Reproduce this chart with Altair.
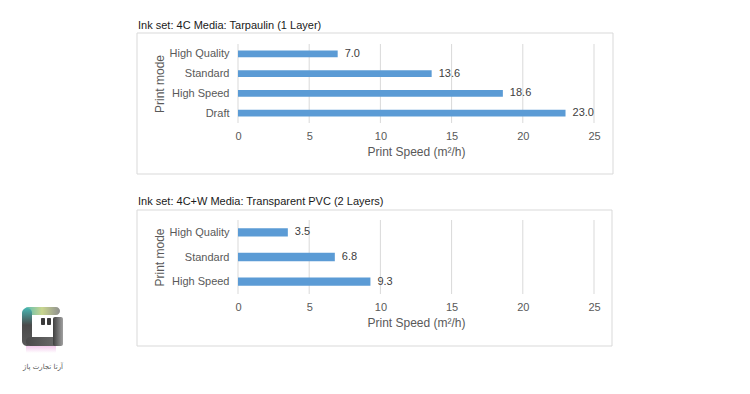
import altair as alt
import pandas as pd

# ---------------- data ----------------
panel_titles = ["Ink set: 4C Media: Tarpaulin (1 Layer)",
                "Ink set: 4C+W Media: Transparent PVC (2 Layers)"]
top_modes = ["High Quality", "Standard", "High Speed", "Draft"]
top_speeds = [7.0, 13.6, 18.6, 23.0]
bottom_modes = ["High Quality", "Standard", "High Speed"]
bottom_speeds = [3.5, 6.8, 9.3]
x_ticks = [0, 5, 10, 15, 20, 25]
x_title = "Print Speed (m²/h)"
y_title = "Print mode"
logo_text = ["آرتا تجارت پاژ"]

# ---------------- style ----------------
W, H = 734, 378
FONT = "Liberation Sans"
BLUE = "#5b9bd5"
GRID = "#d9d9d9"
TXT = "#595959"
X_RANGE = [230, 586]


def panel(modes, speeds, y_range, x_offset):
    df = pd.DataFrame({"mode": modes, "speed": speeds})
    ticks = pd.DataFrame({"speed": x_ticks})
    xs = alt.Scale(domain=[0, 25], range=X_RANGE, nice=False, zero=True)
    ys = alt.Scale(domain=modes, range=y_range, paddingInner=0.66, paddingOuter=0.33)
    grid = alt.Chart(ticks).mark_rule(color=GRID, strokeWidth=1).encode(
        x=alt.X("speed:Q", scale=xs, axis=None),
        y=alt.value(y_range[0]), y2=alt.value(y_range[1]))
    bars = alt.Chart(df).mark_bar(color=BLUE).encode(
        x=alt.X("speed:Q", scale=xs, axis=None),
        y=alt.Y("mode:N", scale=ys, axis=None))
    xaxis = alt.Chart(ticks).mark_point(opacity=0).encode(
        x=alt.X("speed:Q", scale=xs,
                axis=alt.Axis(title=x_title, orient="bottom", offset=x_offset,
                              values=x_ticks, grid=False, domain=False, ticks=False,
                              tickSize=0, labelFlush=False, labelPadding=7, titlePadding=5,
                              labelFontSize=11, labelColor=TXT, labelFont=FONT,
                              titleFontSize=12, titleColor=TXT, titleFont=FONT,
                              titleFontWeight="normal")))
    yaxis = alt.Chart(df).mark_point(opacity=0).encode(
        y=alt.Y("mode:N", scale=ys,
                axis=alt.Axis(title=y_title, orient="left", offset=-230,
                              domain=False, ticks=False, tickSize=0, grid=False,
                              labelPadding=9, titlePadding=3,
                              labelFontSize=11, labelColor=TXT, labelFont=FONT,
                              titleFontSize=12, titleColor=TXT, titleFont=FONT,
                              titleFontWeight="normal")))
    labels = alt.Chart(df).mark_text(align="left", baseline="middle", dx=7,
                                     fontSize=11, font=FONT, color="#404040").encode(
        x=alt.X("speed:Q", scale=xs, axis=None),
        y=alt.Y("mode:N", scale=ys, axis=None),
        text=alt.Text("speed:Q", format=".1f"))
    return [grid, bars, labels, xaxis, yaxis]


one = pd.DataFrame({"k": [0]})


def box(x1, x2, y1, y2):
    return alt.Chart(one).mark_rect(fill="white", fillOpacity=0, stroke="#d9d9d9",
                                    strokeWidth=1).encode(
        x=alt.value(x1), x2=alt.value(x2), y=alt.value(y1), y2=alt.value(y2))


def title(t, y):
    return alt.Chart(pd.DataFrame({"t": [t]})).mark_text(
        align="left", baseline="alphabetic", fontSize=11, font=FONT, color="#1a1a1a").encode(
        x=alt.value(130), y=alt.value(y), text="t:N")


def grad(stops, vertical=True):
    return alt.Gradient(gradient="linear",
                        stops=[alt.GradientStop(offset=o, color=c) for o, c in stops],
                        x1=0, y1=0, x2=0 if vertical else 1, y2=1 if vertical else 0)


def lrect(x1, x2, y1, y2, fill, r=2, op=1.0):
    return alt.Chart(one).mark_rect(fill=fill, cornerRadius=r, opacity=op).encode(
        x=alt.value(x1), x2=alt.value(x2), y=alt.value(y1), y2=alt.value(y2))


logo = [
    # pink fringe under the bottom stroke
    lrect(18, 48, 336, 345, grad([(0, "#eeb3e4"), (1, "#ffffff")]), 1, 0.9),
    # top stroke
    lrect(16, 52, 299, 307, grad([(0, "#4fbab6"), (0.5, "#c9d68f"), (1, "#8f8f8f")], False), 4),
    # left stroke
    lrect(14, 24, 300, 338, grad([(0, "#47b5b1"), (0.45, "#4a4a4a"), (1, "#5a5a5a")]), 5),
    # bottom stroke
    lrect(18, 52, 329, 338, grad([(0, "#4a4a4a"), (1, "#6e6e6e")], False), 4),
    # right stroke
    lrect(45, 55, 309, 338, grad([(0, "#3f3f3f"), (1, "#a0a0a0")], False), 2),
    # quote marks
    lrect(33, 37, 310, 317, "#3a3a3a", 1),
    lrect(39, 43, 310, 317, "#3a3a3a", 1),
    alt.Chart(pd.DataFrame({"t": logo_text})).mark_text(
        align="center", baseline="alphabetic", fontSize=7, font="DejaVu Sans", color="#555555").encode(
        x=alt.value(35), y=alt.value(361), text="t:N"),
]

top = panel(top_modes, top_speeds, [36, 115], -(H - 115))
bottom = panel(bottom_modes, bottom_speeds, [212, 286], -(H - 286))

chart = alt.layer(
    box(129, 605, 25, 166),
    box(129, 604, 202, 338),
    title(panel_titles[0], 21),
    title(panel_titles[1], 197),
    *top,
    *bottom,
    *logo,
).resolve_scale(x="independent", y="independent").properties(
    width=W, height=H, padding=0,
    autosize=alt.AutoSizeParams(type="none"),
    background="white",
).configure_view(stroke=None)

chart.save("out.html", embed_options={"renderer": "svg", "actions": False})
